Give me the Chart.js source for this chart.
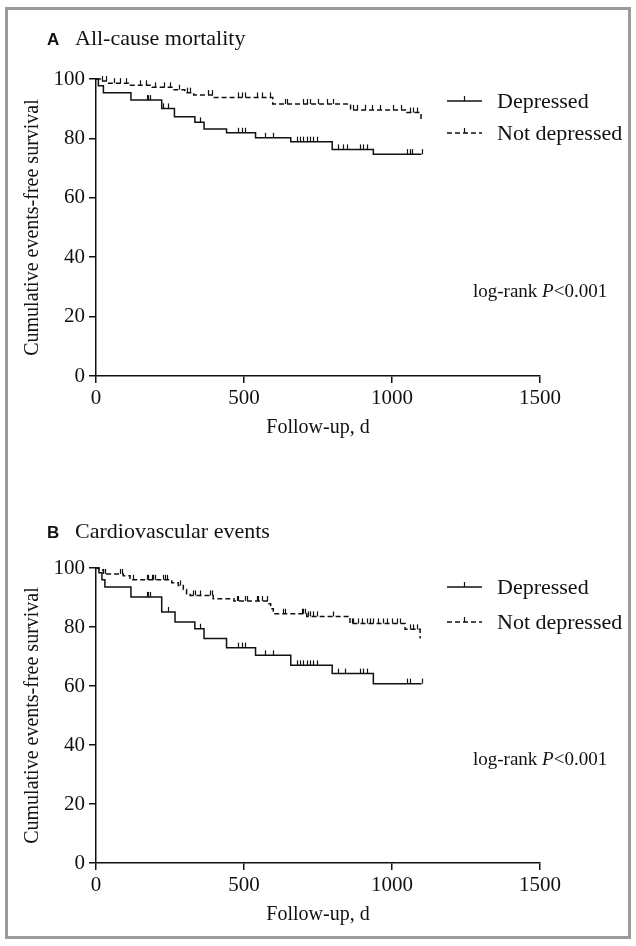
<!DOCTYPE html>
<html>
<head>
<meta charset="utf-8">
<script src="https://cdn.jsdelivr.net/npm/chart.js@4/dist/chart.umd.min.js"></script>
<style>
  body { margin: 0; background: #fff; }
  #frame { position: absolute; left: 5px; top: 7px; width: 620px; height: 926px; border: 3px solid #9b9b9b; }
  .panel { position: absolute; left: 0; width: 636px; }
</style>
</head>
<body>
<div id="frame"></div>
<div class="panel" style="top:0;height:460px"><canvas id="chartA"></canvas></div>
<div class="panel" style="top:470px;height:476px"><canvas id="chartB"></canvas></div>
<script>
const xTicks = [0, 500, 1000, 1500];
const yTicks = [0, 20, 40, 60, 80, 100];
const groups = ["Depressed", "Not depressed"];
const note = ["log-rank ", "P", "<0.001"];

// A - all-cause mortality
const depA_days = [0, 8, 25, 118, 222, 265, 334, 365, 441, 539, 658, 798, 937, 1100];
const depA_surv = [100, 97.7, 95.4, 92.9, 90.1, 87.3, 85.4, 83.2, 81.9, 80.2, 78.9, 76.3, 74.7, 74.7];
const depA_cens = [171, 177, 182, 228, 244, 351, 481, 492, 503, 571, 599, 678, 689, 700, 712, 723, 734, 745, 819, 836, 847, 892, 903, 914, 1050, 1061, 1066, 1100];
const ndA_days = [0, 15, 40, 110, 190, 260, 300, 330, 396, 597, 860, 1050, 1098];
const ndA_surv = [100, 99.3, 98.6, 97.9, 97.2, 96.4, 95.4, 94.6, 93.8, 91.6, 89.6, 88.7, 86.4];
const ndA_cens = [20, 35, 60, 80, 100, 150, 170, 200, 230, 250, 280, 306, 317, 380, 391, 481, 492, 503, 543, 560, 588, 639, 644, 700, 712, 723, 751, 779, 802, 869, 881, 909, 931, 959, 1005, 1032, 1061, 1072, 1083];

// B - cardiovascular events
const depB_days = [0, 10, 20, 30, 118, 222, 267, 334, 365, 441, 539, 658, 798, 937, 1100];
const depB_surv = [100, 98.4, 96.0, 93.6, 90.2, 85.1, 81.7, 79.4, 76.1, 73.0, 70.4, 67.0, 64.2, 60.8, 60.8];
const depB_cens = [171, 177, 182, 244, 351, 481, 492, 503, 571, 599, 678, 689, 700, 712, 723, 734, 745, 819, 841, 892, 903, 914, 1050, 1061, 1100];
const ndB_days = [0, 10, 25, 92, 115, 256, 278, 295, 306, 318, 396, 466, 582, 590, 599, 712, 858, 1044, 1095];
const ndB_surv = [100, 99.3, 98.0, 97.4, 96.0, 95.0, 94.1, 92.7, 91.3, 90.7, 89.6, 88.8, 87.9, 86.2, 84.5, 83.6, 81.2, 79.2, 76.1];
const ndB_cens = [25, 30, 81, 87, 126, 171, 177, 188, 194, 199, 228, 233, 239, 284, 329, 335, 351, 385, 391, 475, 481, 503, 509, 543, 548, 560, 577, 633, 639, 695, 700, 706, 717, 723, 734, 746, 802, 864, 869, 886, 898, 915, 926, 937, 954, 971, 982, 999, 1016, 1027, 1061, 1072, 1083];

const INK = "#111";
const SERIF = "'Liberation Serif', 'Times New Roman', serif";
const SANS = "'Liberation Sans', Arial, sans-serif";
const DASH = [5, 3];

function survAt(days, surv, t) {
  let s = surv[0];
  for (let i = 0; i < days.length; i++) {
    if (days[i] <= t) s = surv[i];
  }
  return s;
}

function curve(days, surv, label, dash) {
  return {
    label: label,
    data: days.map((d, i) => ({ x: d, y: surv[i] })),
    stepped: "before",
    borderColor: INK,
    borderWidth: 1.5,
    borderDash: dash,
    pointRadius: 0,
    fill: false,
    clip: false,
  };
}

// censored observations: points are placed by the scales, ticks drawn by the plugin below
function censored(days, surv, cens) {
  return {
    label: "",
    censor: true,
    data: cens.map((t) => ({ x: t, y: survAt(days, surv, t) })),
    showLine: false,
    pointRadius: 0,
    clip: false,
  };
}

const decor = {
  id: "decor",
  afterDatasetsDraw(chart) {
    const ctx = chart.ctx;
    ctx.save();
    ctx.strokeStyle = INK;
    ctx.lineWidth = 1.2;
    chart.data.datasets.forEach((d, i) => {
      if (!d.censor) return;
      chart.getDatasetMeta(i).data.forEach((pt) => {
        const x = Math.round(pt.x) + 0.5;
        ctx.beginPath();
        ctx.moveTo(x, pt.y);
        ctx.lineTo(x, pt.y - 5);
        ctx.stroke();
      });
    });
    ctx.restore();
  },
  afterDraw(chart, args, opts) {
    const ctx = chart.ctx;
    const area = chart.chartArea;
    ctx.save();
    ctx.fillStyle = INK;
    ctx.textBaseline = "alphabetic";
    ctx.textAlign = "left";
    // panel title
    ctx.font = "bold 17px " + SANS;
    ctx.fillText(opts.letter, 47, area.top - opts.titleUp);
    ctx.font = "22px " + SERIF;
    ctx.fillText(opts.title, 75, area.top - opts.titleUp);

    // legend
    const lines = chart.data.datasets.filter((d) => d.label);
    lines.forEach((d, i) => {
      const y = area.top + opts.legendRows[i];
      ctx.strokeStyle = INK;
      ctx.lineWidth = 1.5;
      ctx.setLineDash(d.borderDash || []);
      ctx.beginPath();
      ctx.moveTo(447, y);
      ctx.lineTo(482, y);
      ctx.stroke();
      ctx.setLineDash([]);
      ctx.lineWidth = 1.2;
      ctx.beginPath();
      ctx.moveTo(464.5, y);
      ctx.lineTo(464.5, y - 5);
      ctx.stroke();
      ctx.font = "22px " + SERIF;
      ctx.textBaseline = "middle";
      ctx.fillText(d.label, 497, y + 1);
    });

    // log-rank note
    ctx.textBaseline = "alphabetic";
    let x = 473;
    const y = area.bottom - opts.noteUp;
    note.forEach((part, i) => {
      ctx.font = (i === 1 ? "italic " : "") + "19px " + SERIF;
      ctx.fillText(part, x, y);
      x += ctx.measureText(part).width;
    });
    ctx.restore();
  },
};

function makeChart(id, padTop, padBottom, datasets, decorOpts) {
  const ctx = document.getElementById(id).getContext("2d");
  return new Chart(ctx, {
    type: "line",
    data: { datasets: datasets },
    options: {
      responsive: true,
      maintainAspectRatio: false,
      animation: false,
      layout: { padding: { top: padTop, right: 96, bottom: padBottom, left: 0 } },
      plugins: {
        legend: { display: false },
        tooltip: { enabled: false },
        decor: decorOpts,
      },
      scales: {
        x: {
          type: "linear",
          min: 0,
          max: 1500,
          afterBuildTicks: (s) => { s.ticks = xTicks.map((v) => ({ value: v })); },
          afterFit: (s) => { s.height = 64; },
          grid: { drawOnChartArea: false, drawTicks: true, tickLength: 7, color: INK, lineWidth: 1.5 },
          border: { display: true, color: INK, width: 1.5 },
          ticks: { color: INK, padding: 3, font: { family: SERIF, size: 21 }, callback: (v) => String(v) },
          title: { display: true, text: "Follow-up, d", color: INK, padding: 0, font: { family: SERIF, size: 20 } },
        },
        y: {
          type: "linear",
          min: 0,
          max: 100,
          afterBuildTicks: (s) => { s.ticks = yTicks.map((v) => ({ value: v })); },
          afterFit: (s) => { s.width = 96; },
          grid: { drawOnChartArea: false, drawTicks: true, tickLength: 7, color: INK, lineWidth: 1.5 },
          border: { display: true, color: INK, width: 1.5 },
          ticks: { color: INK, padding: 4, font: { family: SERIF, size: 21 }, callback: (v) => String(v) },
          title: { display: true, text: "Cumulative events-free survival", color: INK, padding: { top: 21 }, font: { family: SERIF, size: 20 } },
        },
      },
    },
    plugins: [decor],
  });
}

makeChart("chartA", 79, 20, [
  curve(depA_days, depA_surv, groups[0], []),
  curve(ndA_days, ndA_surv, groups[1], DASH),
  censored(depA_days, depA_surv, depA_cens),
  censored(ndA_days, ndA_surv, ndA_cens),
], { letter: "A", title: "All-cause mortality", titleUp: 34, legendRows: [22, 54], noteUp: 79 });

makeChart("chartB", 98, 19, [
  curve(depB_days, depB_surv, groups[0], []),
  curve(ndB_days, ndB_surv, groups[1], DASH),
  censored(depB_days, depB_surv, depB_cens),
  censored(ndB_days, ndB_surv, ndB_cens),
], { letter: "B", title: "Cardiovascular events", titleUp: 30, legendRows: [19, 54], noteUp: 98 });
</script>
</body>
</html>
